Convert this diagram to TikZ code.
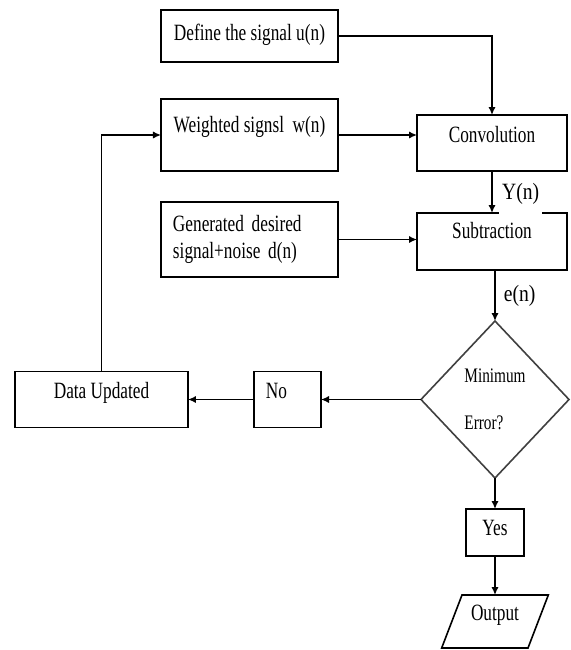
\documentclass[tikz,border=0pt]{standalone}
\usepackage{fontspec}
\setmainfont[FakeStretch=0.74]{Liberation Serif}
\newfontfamily\lblfont[FakeStretch=0.84]{Liberation Serif}
\usepackage{tikz}
\usetikzlibrary{shapes,arrows.meta,positioning}

\begin{document}
\begin{tikzpicture}[
    node distance=1cm,
    box/.style={rectangle, draw, line width=1.2pt, outer sep=0pt, inner sep=3pt, text height=12pt, text depth=#1, font=\fontsize{17.5}{20.25}\selectfont},
    box/.default=13pt,
    decision/.style={diamond, draw=black!75, line width=1.2pt, outer sep=0pt, align=left, minimum width=111pt, minimum height=117.75pt, font=\fontsize{15.5}{35.25}\selectfont},
    io/.style={trapezium, trapezium left angle=68, trapezium right angle=112, trapezium stretches=true, draw, line width=1.2pt, outer sep=0pt, inner sep=3pt, minimum width=80.25pt, minimum height=39.75pt, text height=12pt, text depth=14pt, font=\fontsize{17.5}{20.25}\selectfont},
    lbl/.style={inner sep=2pt, font=\lblfont\fontsize{17.5}{20}\selectfont},
    arrow/.style={-{Latex[length=6pt,width=5.5pt]}, line width=1.2pt}
]
\useasboundingbox (-187.125pt,27pt) rectangle (241.125pt,-460.5pt);

\node[box=6pt, minimum width=132.75pt, minimum height=39pt] (define) {Define the signal u(n)};
\node[box=16pt, minimum width=132.75pt, minimum height=54pt, below=27.75pt of define] (weighted) {Weighted signsl~ w(n)};
\node[rectangle, draw, line width=1.2pt, outer sep=0pt, align=left, text width=114.75pt, inner xsep=9pt, minimum height=56.25pt, font=\fontsize{17.5}{20.25}\selectfont, below=23.25pt of weighted] (desired) {Generated desired\\signal+noise d(n)};
\node[box, minimum width=112.5pt, minimum height=42pt, right=59.25pt of weighted, yshift=-6pt] (conv) {Convolution};
\node[box=16pt, minimum width=112.5pt, minimum height=42.75pt, below=31.5pt of conv] (subtr) {Subtraction};
\node[decision, below=38.25pt of subtr, xshift=2.25pt] (check) {Minimum\\Error?};
\node[box, align=left, text width=32.25pt, inner xsep=9pt, minimum height=42pt, left=75pt of check] (no) {No};
\node[box, minimum width=129.75pt, minimum height=42pt, left=49.5pt of no] (update) {Data Updated};
\node[box=8pt, minimum width=43.5pt, minimum height=35.25pt, below=23.25pt of check] (yes) {Yes};
\node[io, below=29.25pt of yes] (output) {Output};

\draw[arrow] (define.east) -| (conv.north);
\draw[arrow] (weighted.east) -- (weighted.east -| conv.west);
\draw[arrow] (conv) -- node[lbl, right=5pt, yshift=-5pt, fill=white, text depth=10.75pt] (ylab) {Y(n)} (subtr);
\draw[arrow] (desired.east) -- (desired.east -| subtr.west);
\draw[arrow] (subtr.south -| check.north) -- node[lbl, right=4pt] (elab) {e(n)} (check.north);
\draw[arrow] (check.west) -- (no.east);
\draw[arrow] (no.west) -- (update.east);
\draw[arrow] (update.north) |- (weighted.west);
\draw[arrow] (check.south) -- (yes.north);
\draw[arrow] (yes.south) -- (yes.south |- output.north);
\end{tikzpicture}
\end{document}
